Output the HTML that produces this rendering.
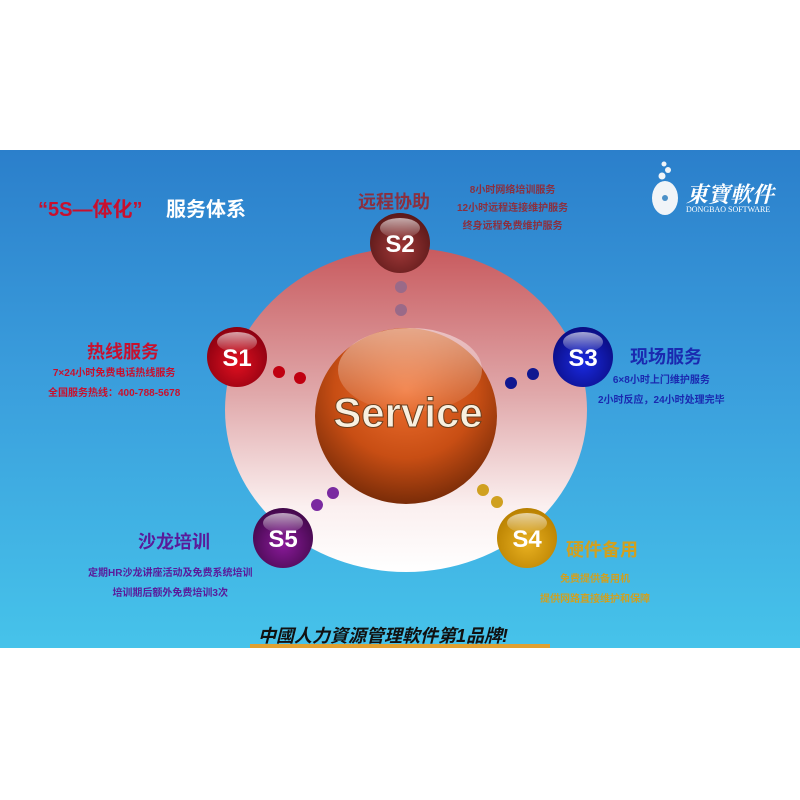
<!DOCTYPE html>
<html><head><meta charset="utf-8"><style>
body{margin:0;width:800px;height:800px;background:#fff;position:relative;overflow:hidden;font-family:"Liberation Sans","Noto Sans CJK SC",sans-serif}
.bg{position:absolute;left:0;top:150px;width:800px;height:498px;background:linear-gradient(180deg,#2b7fcb 0%,#3a9ddc 45%,#46c3ea 100%)}
.t{position:absolute;white-space:nowrap;font-weight:bold}
</style></head><body>
<div class="bg"></div>
<svg width="800" height="800" style="position:absolute;left:0;top:0">
<defs>
<linearGradient id="ring" x1="0" y1="0" x2="0" y2="1"><stop offset="0" stop-color="#c85a5e"/><stop offset="0.45" stop-color="#e0a8aa"/><stop offset="0.8" stop-color="#fbf0f0"/><stop offset="1" stop-color="#ffffff"/></linearGradient>
<radialGradient id="core" cx="0.5" cy="0.35" r="0.65"><stop offset="0" stop-color="#f07030"/><stop offset="0.6" stop-color="#c84e14"/><stop offset="1" stop-color="#7a2c08"/></radialGradient>
<linearGradient id="hl" x1="0" y1="0" x2="0" y2="1"><stop offset="0" stop-color="#fff" stop-opacity="0.9"/><stop offset="1" stop-color="#fff" stop-opacity="0.1"/></linearGradient>
<radialGradient id="g1" cx="0.5" cy="0.6" r="0.6"><stop offset="0" stop-color="#e01020"/><stop offset="1" stop-color="#8a0010"/></radialGradient>
<radialGradient id="g2" cx="0.5" cy="0.6" r="0.6"><stop offset="0" stop-color="#a03838"/><stop offset="1" stop-color="#5a1818"/></radialGradient>
<radialGradient id="g3" cx="0.5" cy="0.6" r="0.6"><stop offset="0" stop-color="#1a2ae0"/><stop offset="1" stop-color="#0a0c80"/></radialGradient>
<radialGradient id="g4" cx="0.5" cy="0.6" r="0.6"><stop offset="0" stop-color="#e8b020"/><stop offset="1" stop-color="#b88000"/></radialGradient>
<radialGradient id="g5" cx="0.5" cy="0.6" r="0.6"><stop offset="0" stop-color="#8a1a9a"/><stop offset="1" stop-color="#42084a"/></radialGradient>
</defs>
<ellipse cx="406" cy="410" rx="181" ry="162" fill="url(#ring)"/>
<ellipse cx="406" cy="416" rx="91" ry="88" fill="url(#core)"/>
<ellipse cx="410" cy="370" rx="72" ry="42" fill="url(#hl)" opacity="0.55"/>
<text x="408" y="427" text-anchor="middle" font-family="Liberation Sans Narrow, Liberation Sans" font-weight="bold" font-size="42" fill="#f8f0e0" stroke="#6a4020" stroke-width="1">Service</text>
<g fill="#9a6a88"><circle cx="401" cy="287" r="6"/><circle cx="401" cy="310" r="6"/></g>
<g fill="#c00010"><circle cx="279" cy="372" r="6"/><circle cx="300" cy="378" r="6"/></g>
<g fill="#101890"><circle cx="511" cy="383" r="6"/><circle cx="533" cy="374" r="6"/></g>
<g fill="#7a2aa0"><circle cx="317" cy="505" r="6"/><circle cx="333" cy="493" r="6"/></g>
<g fill="#d0a020"><circle cx="483" cy="490" r="6"/><circle cx="497" cy="502" r="6"/></g>
<g font-family="Liberation Sans Narrow, Liberation Sans" font-weight="bold" font-size="24" fill="#fff" text-anchor="middle">
<circle cx="400" cy="243" r="30" fill="url(#g2)"/><ellipse cx="400" cy="228" rx="20" ry="10" fill="url(#hl)" opacity="0.7"/><text x="400" y="252">S2</text>
<circle cx="237" cy="357" r="30" fill="url(#g1)"/><ellipse cx="237" cy="342" rx="20" ry="10" fill="url(#hl)" opacity="0.7"/><text x="237" y="366">S1</text>
<circle cx="583" cy="357" r="30" fill="url(#g3)"/><ellipse cx="583" cy="342" rx="20" ry="10" fill="url(#hl)" opacity="0.7"/><text x="583" y="366">S3</text>
<circle cx="283" cy="538" r="30" fill="url(#g5)"/><ellipse cx="283" cy="523" rx="20" ry="10" fill="url(#hl)" opacity="0.7"/><text x="283" y="547">S5</text>
<circle cx="527" cy="538" r="30" fill="url(#g4)"/><ellipse cx="527" cy="523" rx="20" ry="10" fill="url(#hl)" opacity="0.7"/><text x="527" y="547">S4</text>
</g>
<ellipse cx="665" cy="198" rx="13" ry="17" fill="#f0f4f8"/><circle cx="665" cy="198" r="3" fill="#4a90c8"/>
<circle cx="662" cy="176" r="3.5" fill="#f0f4f8"/><circle cx="668" cy="170" r="3" fill="#f0f4f8"/><circle cx="664" cy="164" r="2.5" fill="#f0f4f8"/>
<rect x="250" y="644" width="300" height="4" fill="#e0a030"/>
</svg>
<div class="t" style="left:38px;top:193px;font-size:20px;color:#c8102e">“5S—体化”</div>
<div class="t" style="left:166px;top:193px;font-size:20px;color:#fff">服务体系</div>
<div class="t" style="left:358px;top:188px;font-size:18px;color:#8a3040">远程协助</div>
<div class="t" style="left:457px;top:182px;font-size:10px;color:#8a3040;line-height:18px;text-align:center">8小时网络培训服务<br>12小时远程连接维护服务<br>终身远程免费维护服务</div>
<div class="t" style="left:686px;top:178px;font-size:22px;color:#fff;font-family:'Liberation Serif','Noto Serif CJK SC',serif;font-style:italic">東寶軟件</div>
<div class="t" style="left:686px;top:205px;font-size:8px;color:#fff;font-family:'Liberation Serif',serif;font-weight:normal">DONGBAO SOFTWARE</div>
<div class="t" style="left:87px;top:338px;font-size:18px;color:#c8102e">热线服务</div>
<div class="t" style="left:48px;top:364px;font-size:10px;color:#c8102e;line-height:20px;text-align:center">7×24小时免费电话热线服务<br>全国服务热线：400-788-5678</div>
<div class="t" style="left:630px;top:343px;font-size:18px;color:#1a2ab0">现场服务</div>
<div class="t" style="left:598px;top:371px;font-size:10px;color:#1a2ab0;line-height:20px;text-align:center">6×8小时上门维护服务<br>2小时反应，24小时处理完毕</div>
<div class="t" style="left:138px;top:528px;font-size:18px;color:#5a1a9a">沙龙培训</div>
<div class="t" style="left:88px;top:564px;font-size:10px;color:#5a1a9a;line-height:20px;text-align:center">定期HR沙龙讲座活动及免费系统培训<br>培训期后额外免费培训3次</div>
<div class="t" style="left:566px;top:536px;font-size:18px;color:#d0a020">硬件备用</div>
<div class="t" style="left:540px;top:570px;font-size:10px;color:#d0a020;line-height:20px;text-align:center">免费提供备用机<br>提供网路直接维护和保障</div>
<div class="t" style="left:258px;top:622px;font-size:18px;color:#111;font-style:italic">中國人力資源管理軟件第1品牌!</div>
</body></html>
